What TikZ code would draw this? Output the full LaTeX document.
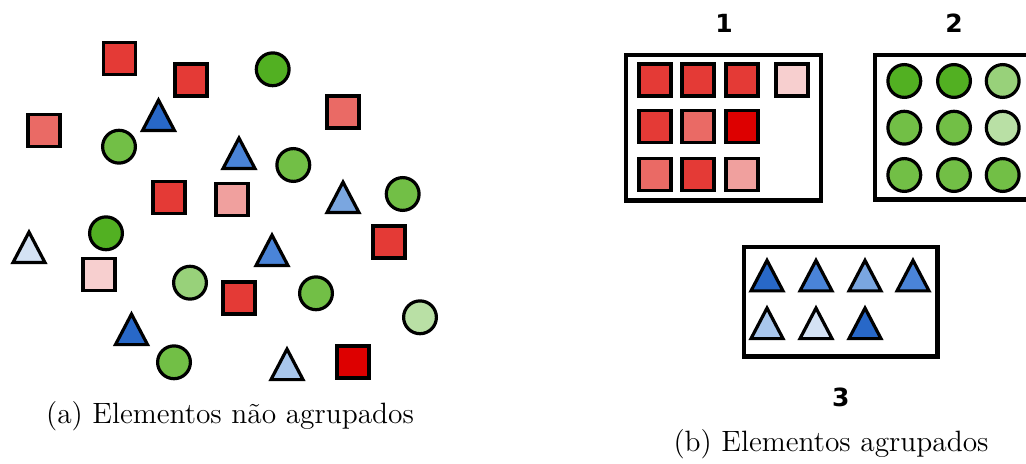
\documentclass[tikz,border=0pt]{standalone}
\usepackage{fontspec}
\newfontfamily\numfont{DejaVu Sans}[BoldFont={DejaVu Sans Bold}]
\definecolor{redA}{RGB}{228,58,54}
\definecolor{redB}{RGB}{234,106,101}
\definecolor{redC}{RGB}{240,160,158}
\definecolor{redD}{RGB}{247,207,207}
\definecolor{redE}{RGB}{221,0,0}
\definecolor{grnA}{RGB}{82,176,34}
\definecolor{grnB}{RGB}{114,191,70}
\definecolor{grnC}{RGB}{152,209,122}
\definecolor{grnD}{RGB}{185,224,165}
\definecolor{bluA}{RGB}{40,104,200}
\definecolor{bluB}{RGB}{74,132,216}
\definecolor{bluC}{RGB}{122,166,224}
\definecolor{bluD}{RGB}{168,198,236}
\definecolor{bluE}{RGB}{212,226,244}
\tikzset{
  sq/.style={draw=black, line width=1.6pt, rectangle, minimum size=16pt, inner sep=0pt},
  ci/.style={draw=black, line width=1.6pt, circle, minimum size=16.4pt, inner sep=0pt},
  tr/.style={draw=black, line width=1.6pt},
  group/.style={draw=black, line width=2.2pt},
  num/.style={font=\numfont\bfseries\fontsize{12.5}{14}\selectfont, anchor=base},
  captext/.style={font=\fontsize{14.7}{17}\selectfont, anchor=base}
}
% triangle: centre x, base y, fill colour
\newcommand\tri[3]{\path[tr, fill=#3] (#1-16,#2) -- (#1+16,#2) -- (#1,#2-30.5) -- cycle;}
\begin{document}
\begin{tikzpicture}[x=0.5pt, y=-0.5pt]
\useasboundingbox (0,0) rectangle (1026,464);
\begin{scope}
\clip (0,0) rectangle (1026,464);

% ---- scattered elements ----
\node[sq, fill=redA] (s1) at (119.5,58.5) {};
\node[sq, fill=redA] (s2) at (191,80) {};
\node[sq, fill=redB] (s3) at (44,130.5) {};
\node[sq, fill=redA] (s4) at (169,197.5) {};
\node[sq, fill=redB] (s5) at (343,112) {};
\node[sq, fill=redC] (s6) at (232,199.5) {};
\node[sq, fill=redA] (s7) at (389,242) {};
\node[sq, fill=redD] (s8) at (99,274.5) {};
\node[sq, fill=redA] (s9) at (239,298) {};
\node[sq, fill=redE] (s10) at (353,362) {};

\node[ci, fill=grnA] (c1) at (272.7,69.3) {};
\node[ci, fill=grnB] (c2) at (119,146.7) {};
\node[ci, fill=grnB] (c3) at (293.3,165) {};
\node[ci, fill=grnB] (c4) at (402.7,194) {};
\node[ci, fill=grnA] (c5) at (106,233.3) {};
\node[ci, fill=grnC] (c6) at (190,282.7) {};
\node[ci, fill=grnB] (c7) at (174,362.3) {};
\node[ci, fill=grnB] (c8) at (316,293.3) {};
\node[ci, fill=grnD] (c9) at (420,317.3) {};

\tri{158.5}{130.6}{bluA}
\tri{239}{168.6}{bluB}
\tri{343}{212.6}{bluC}
\tri{29}{262.6}{bluE}
\tri{272}{265.6}{bluB}
\tri{131.5}{344.6}{bluA}
\tri{287}{379.6}{bluD}

\node[captext] (capa) at (230,423) {(a) Elementos não agrupados};

% ---- group 1: squares ----
\draw[group] (626,55) rectangle (820.7,200.7);
\node[num] (n1) at (724,33) {1};
\node[sq, fill=redA] (g1a) at (655,80) {};
\node[sq, fill=redA] (g1b) at (698,80) {};
\node[sq, fill=redA] (g1c) at (742,80) {};
\node[sq, fill=redD] (g1d) at (792,80) {};
\node[sq, fill=redA] (g1e) at (655,126.5) {};
\node[sq, fill=redB] (g1f) at (698,126.5) {};
\node[sq, fill=redE] (g1g) at (742,126.5) {};
\node[sq, fill=redB] (g1h) at (655,174.5) {};
\node[sq, fill=redA] (g1i) at (698,174.5) {};
\node[sq, fill=redC] (g1j) at (742,174.5) {};

% ---- group 2: circles ----
\draw[group] (1040,55) -- (874.7,55) -- (874.7,199.7) -- (1040,199.7);
\node[num] (n2) at (954,33) {2};
\node[ci, fill=grnA] (g2a) at (904.3,81) {};
\node[ci, fill=grnA] (g2b) at (954,81) {};
\node[ci, fill=grnC] (g2c) at (1002.7,81) {};
\node[ci, fill=grnB] (g2d) at (904.3,127.7) {};
\node[ci, fill=grnB] (g2e) at (954,127.7) {};
\node[ci, fill=grnD] (g2f) at (1002.7,127.7) {};
\node[ci, fill=grnB] (g2g) at (904.3,175) {};
\node[ci, fill=grnB] (g2h) at (954,175) {};
\node[ci, fill=grnB] (g2i) at (1002.7,175) {};

% ---- group 3: triangles ----
\draw[group] (743.7,247) rectangle (937.3,356.3);
\tri{767}{290.9}{bluA}
\tri{816}{290.9}{bluB}
\tri{865}{290.9}{bluC}
\tri{913}{290.9}{bluB}
\tri{767}{338.6}{bluD}
\tri{816}{338.6}{bluE}
\tri{865}{338.6}{bluA}
\node[num] (n3) at (840.7,406.5) {3};

\node[captext] (capb) at (831,451) {(b) Elementos agrupados};
\end{scope}
\end{tikzpicture}
\end{document}
